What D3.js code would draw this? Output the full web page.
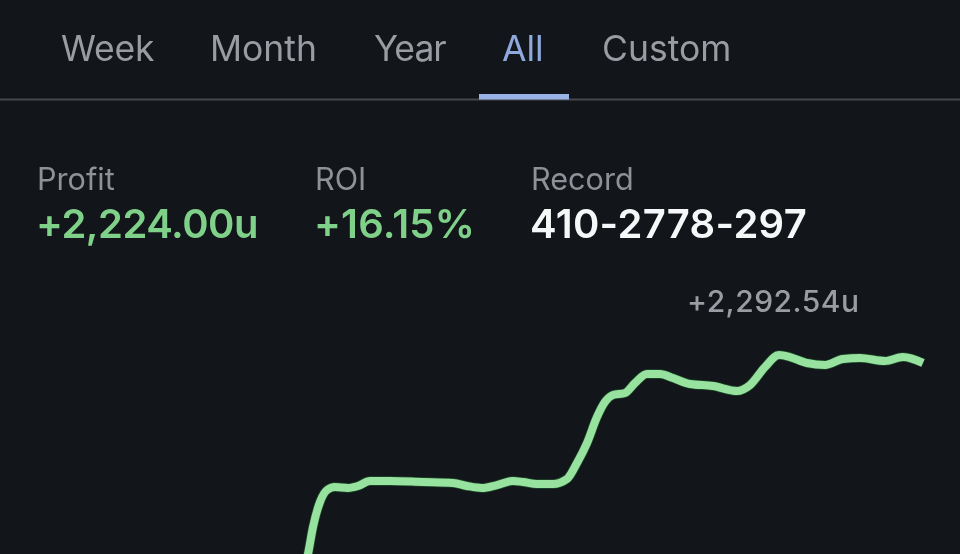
<!DOCTYPE html>
<html>
<head>
<meta charset="utf-8">
<script src="https://cdn.jsdelivr.net/npm/d3@7/dist/d3.min.js"></script>
<style>
  html, body { margin: 0; padding: 0; background: #12151a; }
  svg { display: block; font-family: Inter, "Noto Sans", sans-serif; filter: blur(0.4px); }
</style>
</head>
<body>
<svg id="chart" width="960" height="554"></svg>
<script>
// tabs across the top
const tabs = ['Week', 'Month', 'Year', 'All', 'Custom']
const activeTab = 'All'

// summary stats
const statLabels = ['Profit', 'ROI', 'Record']
const statValues = ['+2,224.00u', '+16.15%', '410-2778-297']

const peakLabel = '+2,292.54u'

// profit curve, days since first bet / units
const days = [3, 8, 13, 20, 27, 35, 48, 58, 70, 90, 123, 153, 167, 182, 197, 213, 223, 237, 253, 267,
  277, 287, 297, 305, 313, 325, 335, 347, 360, 373, 390, 413, 437, 450, 465, 479, 490, 507, 525, 543, 560, 585, 603, 623]
const units = [408, 587, 818, 1033, 1135, 1161, 1153, 1170, 1213, 1213, 1204, 1196, 1170, 1153, 1178, 1213, 1204, 1187, 1187, 1230,
  1367, 1538, 1761, 1890, 1950, 1967, 2053, 2130, 2130, 2095, 2044, 2027, 1984, 2035, 2190, 2292.54, 2275, 2224, 2207, 2258, 2267, 2241, 2275, 2224]

const svg = d3.select('#chart')

const tabX = d3.scaleOrdinal().domain(tabs).range([61, 210, 374, 502, 602])
const tabSpacing = d3.scaleOrdinal().domain(tabs).range([-0.2, 0, -1, 0, 0])
const statX = d3.scaleOrdinal().domain(statLabels).range([37, 315, 531])
const statColor = d3.scaleOrdinal().domain(statLabels).range(['#7fd088', '#7fd088', '#f6f7f8'])
const statSpacing = d3.scaleOrdinal().domain(statLabels).range([-0.5, 0.2, 0.3])

svg.selectAll('.tab')
  .data(tabs)
  .enter()
  .append('text')
    .attr('class', 'tab')
    .attr('x', d => tabX(d))
    .attr('y', 61)
    .style('font-size', '35.5px')
    .style('letter-spacing', d => tabSpacing(d) + 'px')
    .style('fill', d => d === activeTab ? '#8fa9de' : '#999ca1')
    .text(d => d)

// divider + active underline
svg.append('rect').attr('x', 0).attr('y', 98.5).attr('width', 960).attr('height', 2).style('fill', '#45484c')
svg.append('rect').attr('x', 479).attr('y', 94).attr('width', 90).attr('height', 5.5).style('fill', '#9ab3e6')

svg.selectAll('.stat-label')
  .data(statLabels)
  .enter()
  .append('text')
    .attr('class', 'stat-label')
    .attr('x', d => statX(d))
    .attr('y', 190)
    .style('font-size', '30.6px')
    .style('fill', '#8e9196')
    .text(d => d)

svg.selectAll('.stat-value')
  .data(statValues)
  .enter()
  .append('text')
    .attr('class', 'stat-value')
    .attr('x', (d, i) => statX(statLabels[i]) - 1)
    .attr('y', 238)
    .style('font-size', '40px')
    .style('font-weight', 600)
    .style('letter-spacing', (d, i) => statSpacing(statLabels[i]) + 'px')
    .style('fill', (d, i) => statColor(statLabels[i]))
    .text(d => d)

const x = d3.scaleLinear().domain([0, 623]).range([300, 923])
const y = d3.scaleLinear().domain([0, 2292.54]).range([622.5, 355])

const line = d3.line()
  .x(d => x(d[0]))
  .y(d => y(d[1]))
  .curve(d3.curveMonotoneX)

const curve = d3.zip(days, units)

svg.append('path')
  .datum(curve)
  .attr('d', line)
  .style('fill', 'none')
  .style('stroke', '#1f4a2a')
  .style('stroke-width', 9.5)

svg.append('path')
  .datum(curve)
  .attr('d', line)
  .style('fill', 'none')
  .style('stroke', '#98e2a0')
  .style('stroke-width', 8)

svg.append('text')
  .attr('x', 687)
  .attr('y', 312)
  .style('font-size', '30px')
  .style('font-weight', 500)
  .style('letter-spacing', '0.5px')
  .style('fill', '#999ca1')
  .text(peakLabel)
</script>
</body>
</html>
